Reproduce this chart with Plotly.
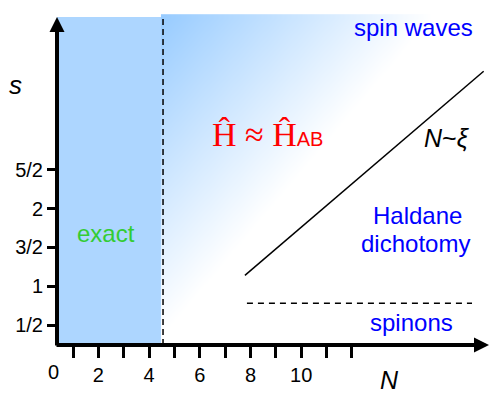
import numpy as np
import plotly.graph_objects as go

# ---- data ----
x_tick_vals = [1, 2, 3, 4, 5, 6, 7, 8, 9, 10, 11, 12]
x_tick_labels = ["", "2", "", "4", "", "6", "", "8", "", "10", "", ""]
x_origin_label = "0"
y_tick_vals = [0.5, 1.0, 1.5, 2.0, 2.5]
y_tick_labels = ["1/2", "1", "3/2", "2", "5/2"]

exact_limit_N = 4.55          # dashed boundary of exact region
crossover_N = [7.78, 17.2]    # N ~ xi line
crossover_s = [1.14, 3.77]
spinon_N = [7.86, 16.74]      # dashed spinon boundary
spinon_s = [0.78, 0.78]

# ---- geometry (axes ranges) ----
W, H = 490, 393
x_range = [-1.882, 17.45]
y_range = [0.2423, 4.688]
y_top = 4.469      # top of shaded regions
y_axis_pos = 57 / W

SANS = "Liberation Sans, Arial, sans-serif"
SERIF = "Liberation Serif, Times New Roman, serif"

fig = go.Figure()

# gradient background (decoration) right of exact region
gx = np.linspace(exact_limit_N, x_range[1], 80)
gy = np.linspace(y_range[0], y_top, 60)
GX, GY = np.meshgrid(gx, gy)
px_x = 47.7 + GX * 25.35
px_y = 363.8 - GY * 77.6
t = ((px_x - 163) * 0.763 + (px_y - 17) * 0.647) / 205.0
t = np.clip(t, 0, 1)
fig.add_trace(go.Heatmap(x=gx, y=gy, z=t, zmin=0, zmax=1, zsmooth="best",
                         colorscale=[[0, "rgb(153,204,255)"], [1, "white"]],
                         showscale=False, hoverinfo="skip"))

# exact region
fig.add_shape(type="rect", x0=0.367, x1=exact_limit_N, y0=y_range[0], y1=y_top,
              fillcolor="rgb(173,214,255)", line_width=0, layer="below")

# dashed exact boundary
fig.add_trace(go.Scatter(x=[exact_limit_N, exact_limit_N], y=[y_range[0], y_top],
                         mode="lines", line=dict(color="black", width=1.5, dash="6px,4px"),
                         hoverinfo="skip", showlegend=False))
# N ~ xi line
fig.add_trace(go.Scatter(x=crossover_N, y=crossover_s, mode="lines",
                         line=dict(color="black", width=1.5),
                         hoverinfo="skip", showlegend=False, cliponaxis=False))
# spinon dashed line
fig.add_trace(go.Scatter(x=spinon_N, y=spinon_s, mode="lines",
                         line=dict(color="black", width=1.5, dash="6px,5px"),
                         hoverinfo="skip", showlegend=False))

ann = []
# axis arrows
ann.append(dict(xref="paper", yref="paper", x=489 / W, y=0, axref="pixel", ayref="pixel",
                ax=-(489 - 55), ay=0, text="", showarrow=True, arrowhead=2,
                arrowsize=0.75, arrowwidth=4, arrowcolor="black"))
ann.append(dict(xref="paper", yref="paper", x=y_axis_pos, y=(345 - 17) / 345,
                axref="pixel", ayref="pixel", ax=0, ay=330, text="", showarrow=True,
                arrowhead=2, arrowsize=0.75, arrowwidth=4, arrowcolor="black"))

def txt(x, y, s, size, color, family=SANS, xref="x", yref="y"):
    ann.append(dict(xref=xref, yref=yref, x=x, y=y, text=s, showarrow=False,
                    font=dict(size=size, color=color, family=family),
                    xanchor="center", yanchor="middle"))

txt(0.21, (345 - 372) / 345, x_origin_label, 20, "black", yref="paper")
txt(-1.29, 3.59, "<i>s</i>", 26, "black")
txt(13.5, (345 - 380) / 345, "<i>N</i>", 25, "black", yref="paper")
txt(14.45, 4.34, "spin waves", 24, "blue")
txt(14.57, 1.917, "Haldane", 24, "blue")
txt(14.53, 1.556, "dichotomy", 24, "blue")
txt(14.37, 0.526, "spinons", 24, "blue")
txt(2.30, 1.673, "exact", 24, "rgb(51,204,51)")
txt(15.75, 2.91, "<i>N</i>~<i>ξ</i>", 25, "black")
txt(8.69, 2.95, "Ĥ ≈ Ĥ<span style='font-family:Liberation Sans;font-size:20px'>AB</span>",
    34, "red", family=SERIF)

fig.update_layout(
    width=W, height=H, margin=dict(l=0, r=0, t=0, b=48),
    paper_bgcolor="white", plot_bgcolor="white",
    showlegend=False, annotations=ann,
    font=dict(family=SANS, color="black"),
    xaxis=dict(range=x_range, showgrid=False, zeroline=False, showline=False,
               tickmode="array", tickvals=x_tick_vals, ticktext=x_tick_labels,
               ticks="outside", ticklen=12, tickwidth=3, tickcolor="black",
               tickfont=dict(size=20, color="black", family=SANS)),
    yaxis=dict(range=y_range, showgrid=False, zeroline=False, showline=False,
               anchor="free", position=y_axis_pos,
               tickmode="array", tickvals=y_tick_vals, ticktext=y_tick_labels,
               ticks="outside", ticklen=10, tickwidth=3, tickcolor="black",
               tickfont=dict(size=20, color="black", family=SANS)),
)

fig.write_html("out.html")
